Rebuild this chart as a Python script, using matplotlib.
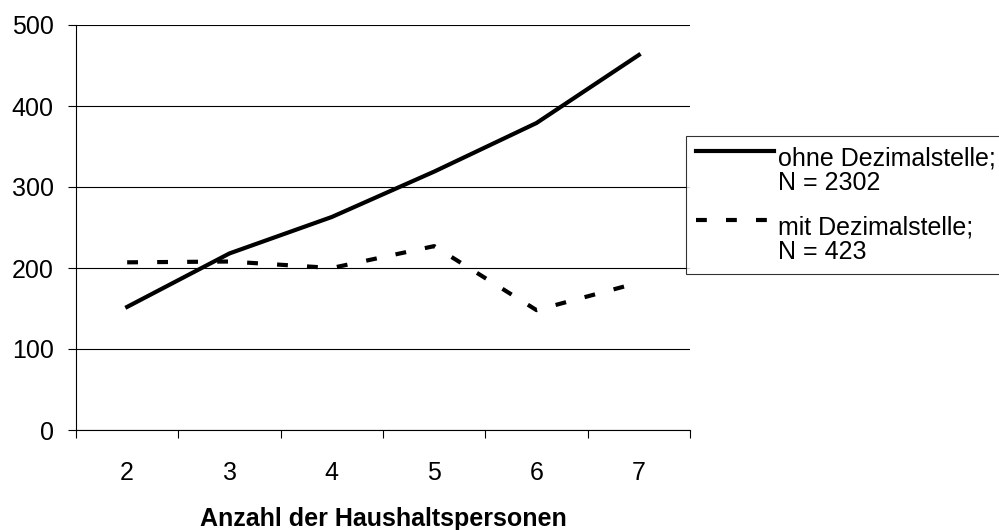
import numpy as np
import matplotlib.pyplot as plt

plt.rcParams['font.family'] = ['Liberation Sans', 'DejaVu Sans']

persons = [2, 3, 4, 5, 6, 7]
ohne_dez = [152, 218, 263, 319, 379, 463]
mit_dez = [207, 208, 200, 227, 148, 182]
label_ohne = 'ohne Dezimalstelle;\nN = 2302'
label_mit = 'mit Dezimalstelle;\nN = 423'

fig = plt.figure(figsize=(9.99, 5.30), dpi=100)
ax = fig.add_axes([76 / 999, 1 - 430 / 530, (690 - 76) / 999, (430 - 25) / 530])

ax.plot(persons, ohne_dez, color='black', lw=3.0, solid_joinstyle='miter',
        label=label_ohne)
ax.plot(persons, mit_dez, color='black', lw=3.0, dashes=(2.6, 4.6),
        label=label_mit)

ax.set_xlim(1.5, 7.5)
ax.set_ylim(0, 500)
ax.set_yticks(np.arange(0, 501, 100))
ax.yaxis.grid(True, color='black', lw=0.8)
ax.set_axisbelow(True)

# category boundaries as ticks, labels on the centers
ax.set_xticks(np.arange(1.5, 7.6, 1))
ax.set_xticklabels([])
ax.set_xticks(persons, minor=True)
ax.set_xticklabels([str(p) for p in persons], minor=True)
ax.tick_params(axis='x', which='major', direction='out', length=6, width=0.8)
ax.tick_params(axis='x', which='minor', length=0, pad=22, labelsize=18)
ax.tick_params(axis='y', direction='out', length=6, width=0.8, pad=10, labelsize=18)

for s in ['top', 'right']:
    ax.spines[s].set_visible(False)
for s in ['left', 'bottom']:
    ax.spines[s].set_linewidth(0.8)

ax.set_xlabel('Anzahl der Haushaltspersonen', fontsize=18, fontweight='bold',
              labelpad=16)

leg = ax.legend(loc='upper left', bbox_to_anchor=(686 / 999, 1 - 136 / 530),
                bbox_transform=fig.transFigure, borderaxespad=0, fontsize=18,
                frameon=True, fancybox=False, handlelength=3.1, handletextpad=0.15,
                borderpad=0.41, labelspacing=0.8)
leg.get_frame().set_edgecolor('black')
leg.get_frame().set_linewidth(0.8)
for t in leg.get_texts():
    t.set_linespacing(1.05)
# put the legend samples on the first text line
for ln in leg.get_lines():
    ln.set_ydata(np.asarray(ln.get_ydata()) + 14.5)

fig.savefig('out.png', dpi=100)
